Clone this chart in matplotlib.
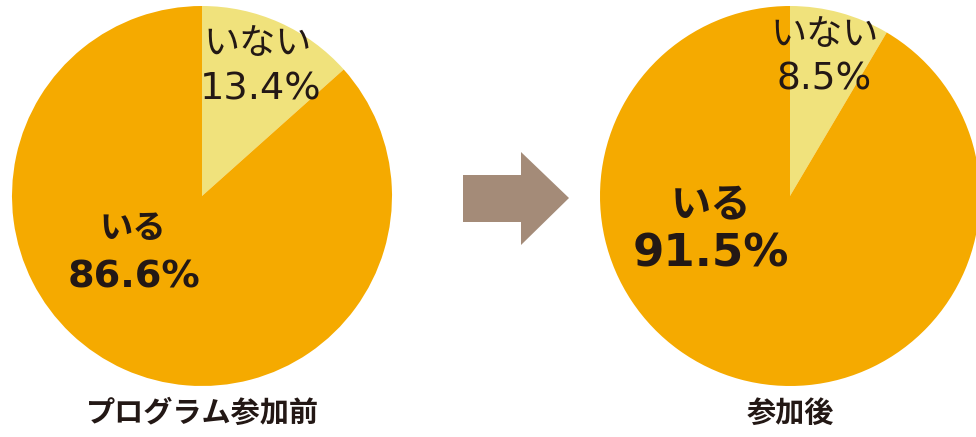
import matplotlib
matplotlib.use("Agg")
import matplotlib.pyplot as plt
import matplotlib.patches as patches

plt.rcParams["font.family"] = ["Noto Sans CJK JP", "DejaVu Sans"]

# ── data ──────────────────────────────────────────────────────────────────────
CATEGORIES = ["いない", "いる"]
BEFORE = [13.4, 86.6]
AFTER = [8.5, 91.5]
TITLES = ["プログラム参加前", "参加後"]

ORANGE = "#F5AA00"
LIGHT = "#F0E27C"
ARROW = "#A48B78"
TXT = "#231815"

W, H = 976, 437
fig = plt.figure(figsize=(W / 100, H / 100), dpi=100)
ax = fig.add_axes([0, 0, 1, 1])

R = 190
centers = [(202, H - 196), (790, H - 196)]

for (cx, cy), vals in zip(centers, [BEFORE, AFTER]):
    ax.pie(vals, colors=[LIGHT, ORANGE], startangle=90, counterclock=False,
           center=(cx, cy), radius=R, frame=True,
           wedgeprops=dict(linewidth=0))
ax.set_xlim(0, W)
ax.set_ylim(0, H)
ax.set_aspect("equal")
ax.axis("off")

def lab(x, y, s, size, bold=False, num=False):
    fam = ["DejaVu Sans"] if num else ["Noto Sans CJK JP", "DejaVu Sans"]
    ax.text(x, H - y, s, ha="center", va="center", fontsize=size,
            color=TXT, fontweight="bold" if bold else "normal", family=fam)

# left pie labels
lab(258, 44, CATEGORIES[0], 26)
lab(261, 90, f"{BEFORE[0]}%", 27.5, num=True)
lab(133, 228, CATEGORIES[1], 24, bold=True)
lab(134, 278, f"{BEFORE[1]}%", 27.5, bold=True, num=True)

# right pie labels
lab(825, 35, CATEGORIES[0], 26)
lab(824, 80, f"{AFTER[0]}%", 27, num=True)
lab(711, 205, CATEGORIES[1], 29, bold=True)
lab(711, 254, f"{AFTER[1]}%", 32.5, bold=True, num=True)

# captions
lab(202, 413, TITLES[0], 21, bold=True)
lab(790, 413, TITLES[1], 21, bold=True)

# arrow between the pies
arrow = patches.Polygon(
    [(463, H - 175), (521, H - 175), (521, H - 152), (569, H - 198),
     (521, H - 245), (521, H - 222), (463, H - 222)],
    closed=True, facecolor=ARROW, edgecolor="none")
ax.add_patch(arrow)

fig.savefig("out.png", dpi=100)
